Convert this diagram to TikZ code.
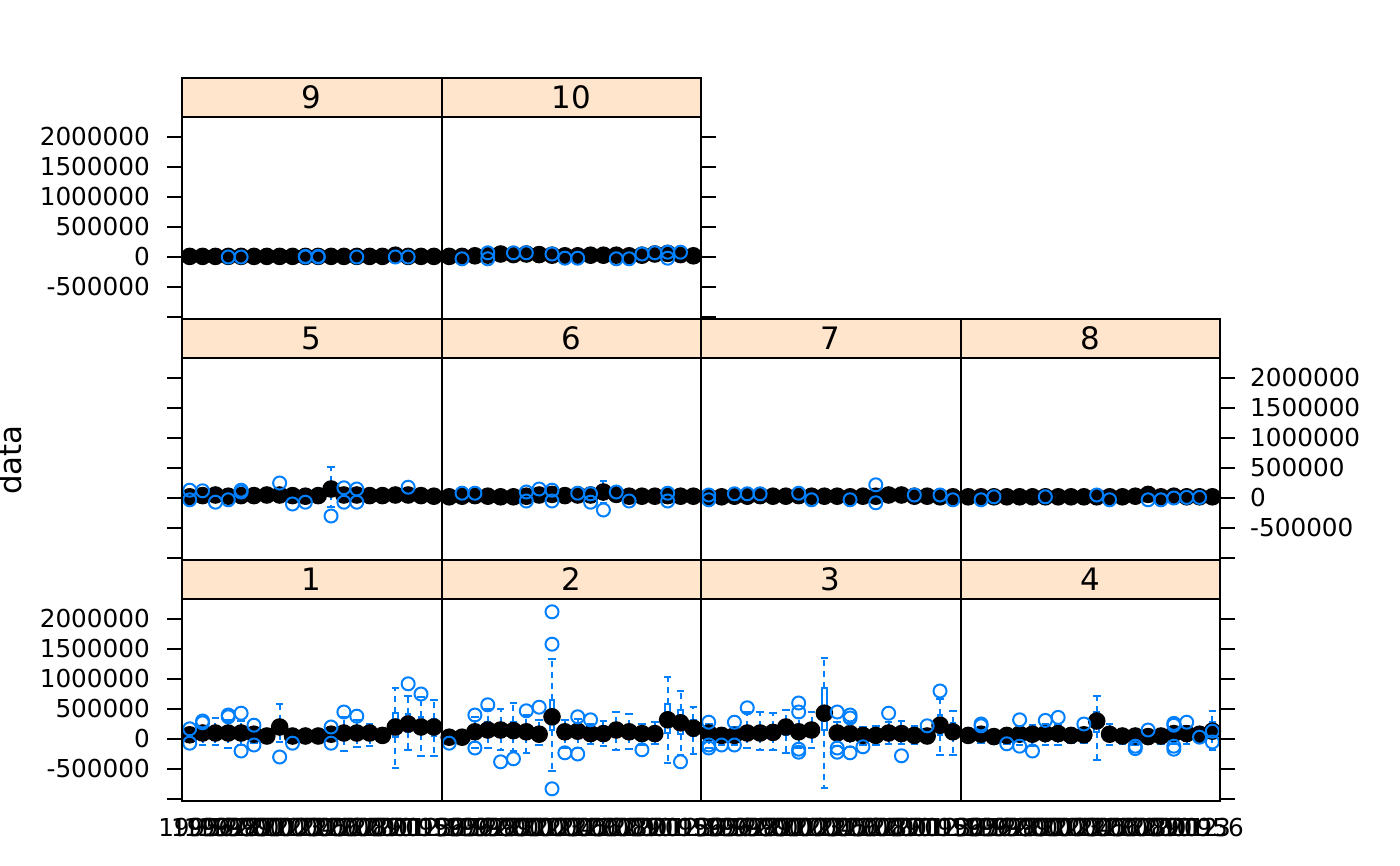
\documentclass[tikz,border=0pt]{standalone}
\usepackage{fontspec}
\setmainfont{DejaVu Sans}
\definecolor{bwblue}{HTML}{0080FF}
\definecolor{stripbg}{HTML}{FFE5CC}
\tikzset{
  whisk/.style={bwblue, line width=2pt, dash pattern=on 6pt off 5pt},
  capst/.style={bwblue, line width=2pt},
  boxst/.style={bwblue, line width=2pt},
  outl/.style={bwblue, line width=2pt},
  medst/.style={fill=black},
  panelframe/.style={black, line width=2pt},
  stripst/.style={fill=stripbg, draw=black, line width=2pt},
  tickst/.style={black, line width=2pt},
  ticklab/.style={inner sep=0pt, font=\fontsize{24.7}{29}\selectfont},
  striplab/.style={inner sep=0pt, font=\fontsize{30.9}{36}\selectfont},
}
% #1 left edge of panel, #2 y of value zero, #3 list i/lo/q1/q3/hi (units of 100000)
\newcommand\bwboxes[3]{%
  \foreach \i/\lo/\qa/\qb/\hi in {#3}{%
    \pgfmathsetmacro\bwx{#1+(\i-0.4)*12.85}%
    \pgfmathsetmacro\ylo{#2-6*(\lo)}%
    \pgfmathsetmacro\yqa{#2-6*(\qa)}%
    \pgfmathsetmacro\yqb{#2-6*(\qb)}%
    \pgfmathsetmacro\yhi{#2-6*(\hi)}%
    \draw[whisk] (\bwx,\yqb) -- (\bwx,\yhi);
    \draw[whisk] (\bwx,\yqa) -- (\bwx,\ylo);
    \draw[capst] (\bwx-3.8,\yhi) -- (\bwx+3.8,\yhi);
    \draw[capst] (\bwx-3.8,\ylo) -- (\bwx+3.8,\ylo);
    \draw[boxst] (\bwx-2.3,\yqa) rectangle (\bwx+2.3,\yqb);
  }}
\newcommand\bwdots[3]{%
  \foreach \i/\m in {#3}{%
    \pgfmathsetmacro\bwx{#1+(\i-0.4)*12.85}%
    \pgfmathsetmacro\ym{#2-6*(\m)}%
    \fill[medst] (\bwx,\ym) circle (8.8pt);
  }}
\newcommand\bwouts[3]{%
  \foreach \i/\v in {#3}{%
    \pgfmathsetmacro\bwx{#1+(\i-0.4)*12.85}%
    \pgfmathsetmacro\yv{#2-6*(\v)}%
    \draw[outl] (\bwx,\yv) circle (6.5pt);
  }}
\begin{document}
\begin{tikzpicture}[x=1pt,y=-1pt]
\useasboundingbox (0,0) rectangle (1400,866);

% ---------- strips ----------
\foreach \n/\c/\T in {1/0/560,2/1/560,3/2/560,4/3/560,5/0/319,6/1/319,7/2/319,8/3/319,9/0/78,10/1/78}{
  \pgfmathsetmacro\Lx{182+259.5*\c}
  \pgfmathsetmacro\Rx{\Lx+259.5}
  \draw[stripst] (\Lx,\T) rectangle (\Rx,\T+39);
  \node[striplab] (s\n) at ({(\Lx+\Rx)/2},\T+19.5) {\n};
}

% ---------- panel 1 ----------
\bwboxes{182}{739}{1/-0.3/0.3/1.1/1.4, 2/-1/0.4/1.6/2.2, 3/-1/0.4/1.7/3.5, 4/-1.5/0.3/1.8/3.2, 5/-1/0.2/1.7/3, 6/-0.6/0.3/1.4/1.8, 7/0/0.2/0.8/1.2, 8/-0.5/0.8/3/5.8, 9/-0.2/0.2/0.8/1.2, 10/0/0.2/0.8/1.1, 11/0/0.2/0.8/1.1, 12/-0.3/0.4/1.2/1.7, 13/-2/0/2.2/3.6, 14/-1.3/0.2/2/3.2, 15/-1.2/0.2/1.8/2.5, 16/-0.5/0.2/1/1.5, 17/-4.8/0.4/4.3/8.5, 18/-1.8/1.2/4.2/7.2, 19/-2.8/0.8/3.6/7, 20/-2.8/0.5/3.4/6.5}
\bwdots{182}{739}{1/0.7,2/1,3/1,4/1,5/1,6/0.8,7/0.5,8/2,9/0.5,10/0.5,11/0.5,12/0.8,13/1,14/1,15/1,16/0.6,17/2,18/2.5,19/2,20/2}
\bwouts{182}{739}{1/1.7,1/-0.7,2/2.7,2/3.0,4/3.7,4/4.0,5/4.3,5/-2,6/2.3,6/-1,8/-3,9/-0.7,12/2.0,12/-0.7,13/4.5,14/3.8,18/9.2,19/7.5}

% ---------- panel 2 ----------
\bwboxes{441.5}{739}{1/-0.3/0/0.6/1, 2/-0.3/0/0.6/1, 3/-1.5/0.3/2.2/3.7, 4/-1.5/0.4/2.8/5, 5/-1.8/0.4/2.6/5, 6/-2/0.4/2.8/6, 7/-2.3/0.3/2.4/4, 8/-1/0.3/1.8/3.2, 9/-5.3/1.5/6.5/13.3, 10/-1.5/0.3/2.2/3.2, 11/-1.5/0.4/2.2/3.3, 12/-0.8/0.3/1.6/2.5, 13/-1.2/0.2/1.8/3, 14/-1.8/0.4/2.6/4.5, 15/-1.6/0.3/2.2/4.2, 16/-1/0.2/1.5/2.5, 17/-0.8/0.2/1.6/2.9, 18/-4/1/5.8/10.3, 19/-2.6/0.8/4.8/8, 20/-2.5/0.5/3.2/5.3}
\bwdots{441.5}{739}{1/0.3,2/0.3,3/1.2,4/1.5,5/1.5,6/1.4,7/1.2,8/0.8,9/3.7,10/1.2,11/1.3,12/0.9,13/0.9,14/1.5,15/1.2,16/0.9,17/0.9,18/3.2,19/2.7,20/1.8}
\bwouts{441.5}{739}{1/-0.7,3/4.0,3/-1.5,4/5.7,5/-3.8,6/-3.3,7/4.7,8/5.3,9/15.8,9/21.2,9/-8.3,10/-2.3,11/3.7,11/-2.5,12/3.2,16/-1.8,19/-3.8}

% ---------- panel 3 ----------
\bwboxes{701}{739}{1/-1.5/0.2/1.8/2.5, 2/-1/0.2/1/1.6, 3/-1/0.2/1.2/2, 4/-1.5/0.3/2/4.5, 5/-1.8/0.3/2/4.5, 6/-1.8/0.3/2/4.3, 7/-2.3/0.6/3/4.8, 8/-1.5/0.4/2.2/3.5, 9/-1.5/0.4/2.6/4.5, 10/-8.2/1.5/8.5/13.5, 11/-1.2/0.3/1.8/2.8, 12/-1.3/0.3/1.8/2.7, 13/-1/0.2/1/2, 14/-1/0.2/1.2/2.2, 15/-0.8/0.2/1.8/2.8, 16/-0.8/0.2/1.8/3, 17/-0.8/0.2/1.2/2.2, 18/-0.2/0.2/1/1.6, 19/-2.7/0.6/4/6.7, 20/-2.6/0.5/2.6/4.6}
\bwdots{701}{739}{1/1,2/0.6,3/0.6,4/1,5/1,6/1.1,7/2,8/1.2,9/1.5,10/4.3,11/1,12/0.9,13/0.6,14/0.6,15/1,16/0.9,17/0.6,18/0.5,19/2.3,20/1.2}
\bwouts{701}{739}{1/2.8,1/-1,1/-1.5,2/-1,3/2.8,3/-1,4/5.2,8/6,8/4.5,8/-2.2,8/-1.7,11/4.5,11/-1.5,11/-2.2,12/4,12/3.5,12/-2.3,13/-1.3,15/4.3,16/-2.8,18/2.2,19/8}

% ---------- panel 4 ----------
\bwboxes{960.5}{739}{1/-0.5/0.2/1/1.6, 2/-0.6/0.3/1.3/2, 3/-0.6/0.1/0.8/1.2, 4/-0.8/0.2/1/1.5, 5/-1/0.3/1.4/2.2, 6/-1.2/0.2/1.5/2.4, 7/-1/0.3/1.6/2.5, 8/-1/0.3/1.5/2.4, 9/-0.6/0.2/1/1.6, 10/-0.6/0.2/1.2/1.8, 11/-3.5/1.2/4.5/7.2, 12/-1/0.3/1.4/2.5, 13/-0.8/0.1/1/1.6, 14/-1/0.1/1/1.6, 15/-0.5/0.1/0.8/1.2, 16/-0.8/0.1/1/1.6, 17/-0.9/0.3/1.4/2, 18/-0.9/0.3/1.5/2.1, 19/-0.7/0.3/1.2/1.7, 20/-1.8/0.4/2.8/4.6}
\bwdots{960.5}{739}{1/0.6,2/0.8,3/0.4,4/0.6,5/0.8,6/0.8,7/0.9,8/0.9,9/0.6,10/0.7,11/3,12/0.8,13/0.5,14/0.5,15/0.4,16/0.5,17/0.9,18/0.9,19/0.8,20/1.3}
\bwouts{960.5}{739}{2/2.5,2/2.2,4/-0.8,5/3.2,5/-1.2,6/-2,7/3.1,8/3.6,10/2.5,14/-1.2,14/-1.6,15/1.5,17/-1.2,17/-1.7,17/2.6,17/2.3,18/2.8,19/0.3,20/-0.5,20/1.3}

% ---------- panel 5 ----------
\bwboxes{182}{498}{12/-1.5/0.6/2.6/5.2}
\bwdots{182}{498}{1/0.2,2/0.4,3/0.5,4/0.3,5/0.4,6/0.4,7/0.5,8/0.5,9/0.4,10/0.3,11/0.4,12/1.5,13/0.5,14/0.5,15/0.4,16/0.4,17/0.5,18/0.5,19/0.4,20/0.3}
\bwouts{182}{498}{1/1.3,1/-0.3,2/1.2,3/-0.7,4/-0.3,5/1.3,5/1,8/2.5,9/-1,10/-0.7,12/-3,13/1.7,13/-0.7,14/1.5,14/-0.7,18/1.8}

% ---------- panel 6 ----------
\bwboxes{441.5}{498}{13/-0.8/0.5/1.6/2.8}
\bwdots{441.5}{498}{1/0.2,2/0.3,3/0.4,4/0.3,5/0.2,6/0.2,7/0.3,8/0.5,9/0.6,10/0.4,11/0.5,12/0.5,13/1,14/0.6,15/0.3,16/0.3,17/0.3,18/0.4,19/0.3,20/0.3}
\bwouts{441.5}{498}{2/0.8,3/0.8,7/1,7/-0.5,8/1.5,9/1.3,9/-0.5,11/0.8,12/0.7,12/-0.7,13/-2,14/1,15/-0.5,18/0.8,18/-0.5}

% ---------- panel 7 ----------
\bwdots{701}{498}{1/0.2,2/0.2,3/0.3,4/0.3,5/0.4,6/0.3,7/0.3,8/0.4,9/0.3,10/0.3,11/0.3,12/0.2,13/0.3,14/0.3,15/0.5,16/0.5,17/0.3,18/0.3,19/0.2,20/0.2}
\bwouts{701}{498}{1/0.5,1/-0.3,3/0.7,4/0.7,5/0.7,8/0.8,9/-0.3,12/-0.3,14/2.2,14/-0.8,17/0.5,19/0.5,20/-0.3}

% ---------- panel 8 ----------
\bwdots{960.5}{498}{1/0.2,2/0.2,3/0.2,4/0.2,5/0.2,6/0.2,7/0.2,8/0.2,9/0.2,10/0.2,11/0.2,12/0.2,13/0.2,14/0.3,15/0.6,16/0.2,17/0.3,18/0.2,19/0.2,20/0.2}
\bwouts{960.5}{498}{2/-0.3,3/0.2,7/0.2,11/0.5,12/-0.3,15/-0.3,16/-0.3,17/0,18/0.1,19/0.1}

% ---------- panel 9 ----------
\bwdots{182}{257}{1/0.1,2/0.1,3/0.1,4/0.1,5/0.1,6/0.1,7/0.1,8/0.1,9/0.1,10/0.1,11/0.1,12/0.1,13/0.1,14/0.1,15/0.1,16/0.1,17/0.3,18/0.1,19/0.1,20/0.1}
\bwouts{182}{257}{4/0,5/0,10/0,10/0.1,11/0,11/0.1,14/0,17/0,18/0}

% ---------- panel 10 ----------
\bwdots{441.5}{257}{1/0.1,2/0.1,3/0.2,4/0.3,5/0.5,6/0.4,7/0.5,8/0.4,9/0.3,10/0.2,11/0.2,12/0.3,13/0.3,14/0.3,15/0.2,16/0.3,17/0.5,18/0.6,19/0.4,20/0.2}
\bwouts{441.5}{257}{2/-0.3,4/0.7,4/-0.3,6/0.7,7/0.7,9/0.5,10/-0.2,11/-0.2,14/-0.3,15/-0.3,16/0.5,17/0.7,18/-0.2,18/0.8,19/0.8}

% ---------- panel frames on top ----------
\foreach \n/\c/\T in {1/0/560,2/1/560,3/2/560,4/3/560,5/0/319,6/1/319,7/2/319,8/3/319,9/0/78,10/1/78}{
  \pgfmathsetmacro\Lx{182+259.5*\c}
  \pgfmathsetmacro\Rx{\Lx+259.5}
  \draw[panelframe] (\Lx,\T+39) rectangle (\Rx,\T+241);
}

% ---------- y axes ----------
\foreach \k/\t in {-4/2000000,-3/1500000,-2/1000000,-1/500000,0/0,1/-500000}{
  \draw[tickst] (167,739+30*\k) -- (182,739+30*\k);
  \node[ticklab,anchor=east] at (150,739+30*\k) {\t};
}
\draw[tickst] (167,799) -- (182,799);
\foreach \k in {-4,...,2}{
  \draw[tickst] (1220,739+30*\k) -- (1235,739+30*\k);
  \draw[tickst] (167,498+30*\k) -- (182,498+30*\k);
  \draw[tickst] (701,257+30*\k) -- (716,257+30*\k);
}
\foreach \k/\t in {-4/2000000,-3/1500000,-2/1000000,-1/500000,0/0,1/-500000}{
  \draw[tickst] (1220,498+30*\k) -- (1235,498+30*\k);
  \node[ticklab,anchor=west] at (1250,498+30*\k) {\t};
}
\draw[tickst] (1220,558) -- (1235,558);
\foreach \k/\t in {-4/2000000,-3/1500000,-2/1000000,-1/500000,0/0,1/-500000}{
  \draw[tickst] (167,257+30*\k) -- (182,257+30*\k);
  \node[ticklab,anchor=east] at (150,257+30*\k) {\t};
}
\draw[tickst] (167,317) -- (182,317);

% ---------- x labels ----------
\foreach \c in {0,...,3}{
  \foreach \lab [count=\i] in {1995,1996,1997,1998,1999,2000,2001,2002,2003,2004,2005,2006,2007,2008,2009,2010,2011,2012,2013,1956}{
    \pgfmathsetmacro\bwx{182+259.5*\c+(\i-0.4)*12.85}
    \node[ticklab,anchor=base] at (\bwx,836) {\lab};
  }
}

% ---------- y label ----------
\node[inner sep=0pt, font=\fontsize{30.9}{36}\selectfont, rotate=90] (ylab) at (10,460) {data};
\end{tikzpicture}
\end{document}
